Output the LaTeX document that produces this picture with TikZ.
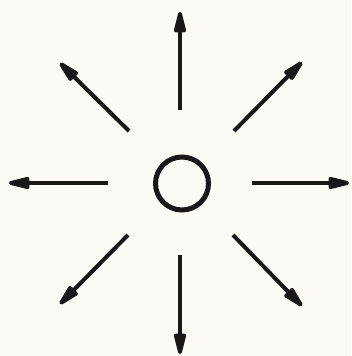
\documentclass[tikz,border=0pt]{standalone}
\usetikzlibrary{arrows.meta}
\definecolor{bg}{RGB}{252,250,245}
\definecolor{ink}{RGB}{24,24,24}
\begin{document}
\begin{tikzpicture}[x=1pt,y=-1pt,
  ray/.style={draw=ink,line width=4pt,-{Triangle[length=28pt,width=12pt,round]}}]
\fill[bg] (0,0) rectangle (351,356);
\useasboundingbox (0,0) rectangle (351,356);
\node[circle,draw=ink,line width=5pt,minimum size=53pt,inner sep=0pt] (c) at (182,183.5) {};
% up
\coordinate (us) at (180,110); \coordinate (ue) at (180,12);
% down
\coordinate (ds) at (180,255); \coordinate (de) at (180,354);
% left
\coordinate (ls) at (108,183); \coordinate (le) at (9,183);
% right
\coordinate (rs) at (252,183); \coordinate (re) at (349,183);
% diagonals
\coordinate (nws) at (129,131); \coordinate (nwe) at (60,63);
\coordinate (nes) at (234,131); \coordinate (nee) at (302,62);
\coordinate (sws) at (128,235); \coordinate (swe) at (60,304);
\coordinate (ses) at (233,235); \coordinate (see) at (302,306);
\draw[ray] (us) -- (ue);
\draw[ray] (ds) -- (de);
\draw[ray] (ls) -- (le);
\draw[ray] (rs) -- (re);
\draw[ray] (nws) -- (nwe);
\draw[ray] (nes) -- (nee);
\draw[ray] (sws) -- (swe);
\draw[ray] (ses) -- (see);
\end{tikzpicture}
\end{document}
